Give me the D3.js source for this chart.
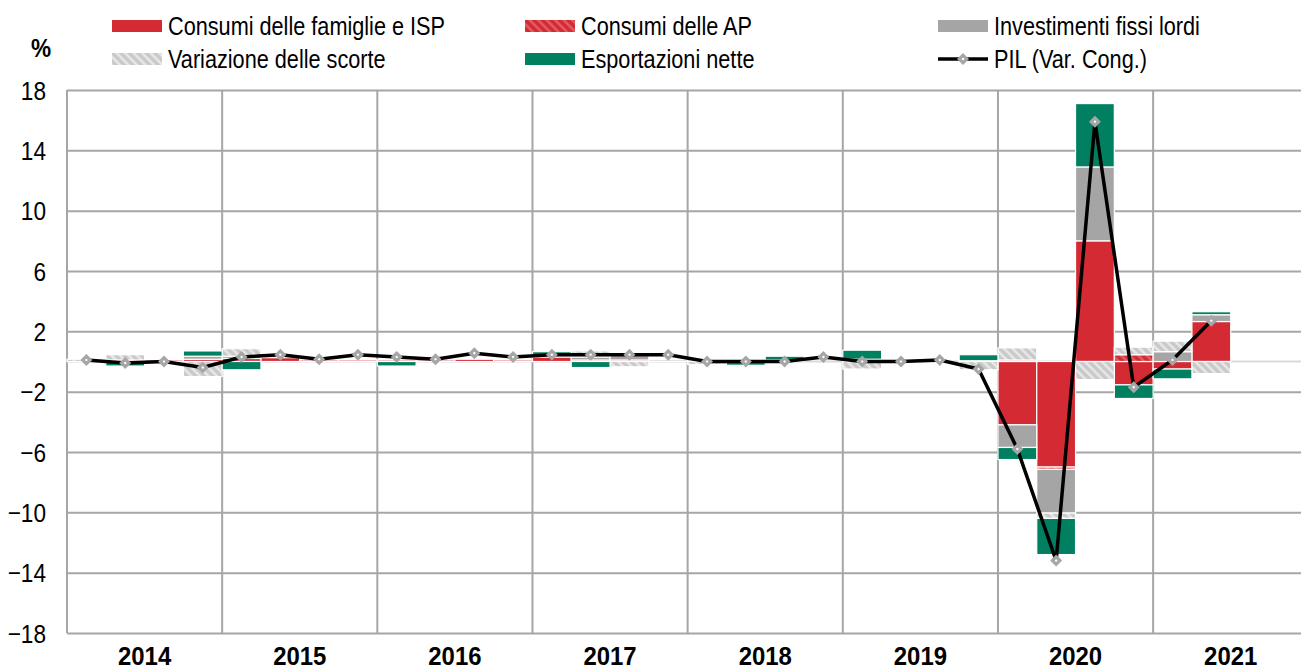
<!DOCTYPE html>
<html>
<head>
<meta charset="utf-8">
<script src="https://cdn.jsdelivr.net/npm/d3@7"></script>
<style>
  body { margin: 0; background: #fff; }
  text { font-family: "Liberation Sans", Arial, sans-serif; fill: #000; }
</style>
</head>
<body>
<svg id="chart" width="1301" height="671"></svg>
<script>
// quarters on the category axis (2021 T3/T4 are empty)
const quarters = [
  "2014T1","2014T2","2014T3","2014T4","2015T1","2015T2","2015T3","2015T4",
  "2016T1","2016T2","2016T3","2016T4","2017T1","2017T2","2017T3","2017T4",
  "2018T1","2018T2","2018T3","2018T4","2019T1","2019T2","2019T3","2019T4",
  "2020T1","2020T2","2020T3","2020T4","2021T1","2021T2","2021T3","2021T4"
];
const years = ["2014","2015","2016","2017","2018","2019","2020","2021"];
const yTicks = [18, 14, 10, 6, 2, -2, -6, -10, -14, -18];

// contributions to GDP growth, percentage points
const famiglie     = [0.0, 0.1, 0.1, 0.15, 0.2, 0.25, 0.1, 0.1, 0.1, 0.1, 0.15, 0.1, 0.3, 0.1, 0.1, 0.0, 0.0, 0.0, 0.1, 0.0, 0.15, 0.0, 0.0, 0.05, -4.2, -7.0, 8.0, -1.55, -0.5, 2.65];
const consumiAP    = [0.0, 0.0, 0.0, 0.0, 0.0, 0.0, 0.0, 0.0, 0.0, 0.0, 0.0, 0.0, 0.0, 0.0, 0.0, 0.0, 0.0, 0.0, 0.0, 0.0, 0.0, 0.0, 0.0, 0.0, 0.1, -0.15, 0.0, 0.45, 0.0, 0.0];
const investimenti = [0.0, 0.0, 0.0, 0.2, 0.15, 0.0, 0.0, 0.0, 0.0, 0.0, 0.0, 0.0, 0.1, 0.2, 0.3, 0.1, 0.0, 0.0, 0.0, 0.0, 0.0, 0.0, 0.0, 0.0, -1.5, -2.9, 4.9, 0.0, 0.65, 0.45];
const scorte       = [0.15, 0.35, 0.0, -1.0, 0.5, 0.0, 0.0, 0.0, 0.0, 0.0, 0.0, 0.0, 0.0, 0.4, -0.35, 0.0, -0.2, 0.0, 0.0, 0.0, -0.5, 0.0, 0.0, -0.55, 0.8, -0.35, -1.2, 0.5, 0.7, -0.8];
const esportazioni = [0.0, -0.3, 0.0, 0.35, -0.55, 0.0, 0.0, 0.0, -0.3, 0.0, 0.0, 0.0, 0.25, -0.4, 0.15, 0.0, 0.0, -0.25, 0.25, 0.0, 0.6, 0.0, 0.0, 0.4, -0.8, -2.4, 4.2, -0.9, -0.65, 0.2];
const pil          = [0.1, -0.1, 0.0, -0.4, 0.3, 0.45, 0.15, 0.45, 0.3, 0.15, 0.55, 0.3, 0.45, 0.45, 0.45, 0.45, 0.0, 0.0, 0.0, 0.3, 0.0, 0.0, 0.1, -0.5, -5.8, -13.2, 15.9, -1.7, 0.1, 2.7];

const keys = ["fam", "ap", "inv", "sco", "exp"];
const labels = {
  fam: "Consumi delle famiglie e ISP",
  ap: "Consumi delle AP",
  inv: "Investimenti fissi lordi",
  sco: "Variazione delle scorte",
  exp: "Esportazioni nette",
  pil: "PIL (Var. Cong.)"
};

const rows = pil.map((v, i) => ({
  q: quarters[i], fam: famiglie[i], ap: consumiAP[i], inv: investimenti[i],
  sco: scorte[i], exp: esportazioni[i], pil: v
}));

const svg = d3.select("#chart");
const W = 1301;
const plotLeft = 67, plotTop = 90, plotBottom = 633;
const qw = 38.79;

const x = d3.scaleBand().domain(quarters).range([plotLeft, plotLeft + quarters.length * qw]).padding(0);
const y = d3.scaleLinear().domain([-18, 18]).range([plotBottom, plotTop]);

// the original uses a narrow face; squeeze the regular one horizontally
function squeeze(sel, sx) {
  sel.each(function() {
    const t = d3.select(this);
    const tx = +t.attr("x") || 0, ty = +t.attr("y") || 0;
    t.attr("x", 0).attr("y", 0).attr("transform", `translate(${tx},${ty}) scale(${sx},1)`);
  });
}

// patterns
const defs = svg.append("defs");
function hatch(id, base, stripe) {
  const p = defs.append("pattern").attr("id", id)
    .attr("patternUnits", "userSpaceOnUse").attr("width", 6).attr("height", 6)
    .attr("patternTransform", "rotate(-45)");
  p.append("rect").attr("width", 6).attr("height", 6).attr("fill", base);
  p.append("line").attr("x1", 1.5).attr("x2", 1.5).attr("y1", 0).attr("y2", 6)
    .attr("stroke", stripe).attr("stroke-width", 2.2);
}
hatch("hatchAP", "#d42a33", "#e2646a");
hatch("hatchSco", "#c9c9c9", "#ececec");

const fills = { fam: "#d42a33", ap: "url(#hatchAP)", inv: "#a5a5a5", sco: "url(#hatchSco)", exp: "#008060" };

// grid + y labels
const yAxis = d3.axisLeft(y).tickValues(yTicks)
  .tickSizeInner(-(W - plotLeft)).tickSizeOuter(0).tickPadding(21);
const gy = svg.append("g").attr("transform", `translate(${plotLeft},0)`).call(yAxis);
gy.select(".domain").remove();
gy.attr("font-family", null).attr("font-size", null);
gy.selectAll(".tick line").attr("stroke", "#a6a6a6").attr("stroke-width", 2);
gy.selectAll(".tick text").attr("font-size", 26).attr("fill", "#000").attr("dy", "0.35em")
  .call(squeeze, 0.87);

// vertical year separators
svg.append("g").selectAll("line").data(years).join("line")
  .attr("x1", (d, i) => x(quarters[i * 4])).attr("x2", (d, i) => x(quarters[i * 4]))
  .attr("y1", plotTop).attr("y2", plotBottom)
  .attr("stroke", "#a6a6a6").attr("stroke-width", 2);

// zero line
svg.append("line").attr("x1", plotLeft).attr("x2", W).attr("y1", y(0)).attr("y2", y(0))
  .attr("stroke", "#d9d9d9").attr("stroke-width", 2);

// stacked bars
const stacked = d3.stack().keys(keys).offset(d3.stackOffsetDiverging)(rows);
svg.append("g").selectAll("g").data(stacked).join("g")
  .attr("fill", d => fills[d.key])
  .selectAll("rect").data(d => d.filter(s => s[1] !== s[0])).join("rect")
  .attr("x", d => x(d.data.q))
  .attr("width", x.bandwidth())
  .attr("y", d => y(Math.max(d[0], d[1])))
  .attr("height", d => Math.abs(y(d[0]) - y(d[1])))
  .attr("stroke", "#fff").attr("stroke-width", 1.2);

// GDP line
const cx = d => x(d.q) + x.bandwidth() / 2;
svg.append("path").datum(rows)
  .attr("fill", "none").attr("stroke", "#000").attr("stroke-width", 3.5)
  .attr("stroke-linejoin", "round")
  .attr("d", d3.line().x(cx).y(d => y(d.pil)));

const diamond = d3.symbol().type(d3.symbolSquare).size(72);
const mk = svg.append("g").selectAll("g").data(rows).join("g")
  .attr("transform", d => `translate(${cx(d)},${y(d.pil)}) rotate(45)`);
mk.append("path").attr("d", diamond).attr("fill", "#a6a6a6");
mk.append("circle").attr("r", 1.2).attr("fill", "#fff");

// year labels
svg.append("g").selectAll("text").data(years).join("text")
  .attr("x", (d, i) => x(quarters[i * 4]) + 2 * x.bandwidth())
  .attr("y", 665).attr("text-anchor", "middle")
  .attr("font-size", 26).attr("font-weight", "bold")
  .text(d => d)
  .call(squeeze, 0.92);

// unit
svg.append("text").attr("x", 41).attr("y", 57).attr("text-anchor", "middle")
  .attr("font-size", 26).attr("font-weight", "bold").text("%")
  .call(squeeze, 0.87);

// legend
const legendItems = [
  { k: "fam", x: 112, y: 26 }, { k: "ap", x: 525, y: 26 }, { k: "inv", x: 938, y: 26 },
  { k: "sco", x: 112, y: 59 }, { k: "exp", x: 525, y: 59 }, { k: "pil", x: 938, y: 59 }
];
const lg = svg.append("g").selectAll("g").data(legendItems).join("g")
  .attr("transform", d => `translate(${d.x},${d.y})`);
lg.each(function(d) {
  const g = d3.select(this);
  if (d.k === "pil") {
    g.append("line").attr("x1", 0).attr("x2", 50).attr("y1", 0).attr("y2", 0)
      .attr("stroke", "#000").attr("stroke-width", 3.5);
    g.append("path").attr("d", diamond).attr("transform", "translate(25,0) rotate(45)").attr("fill", "#a6a6a6");
    g.append("circle").attr("cx", 25).attr("r", 1.2).attr("fill", "#fff");
  } else {
    g.append("rect").attr("x", 0).attr("y", -6).attr("width", 50).attr("height", 12).attr("fill", fills[d.k]);
  }
  g.append("text").attr("x", 56).attr("y", 9).attr("font-size", 26).text(labels[d.k])
    .call(squeeze, 0.834);
});
</script>
</body>
</html>
